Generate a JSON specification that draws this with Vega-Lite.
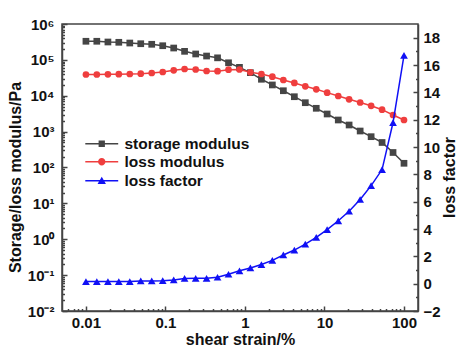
{
  "$schema": "https://vega.github.io/schema/vega-lite/v6.json",
  "width": 356,
  "height": 287,
  "autosize": {"type": "none"},
  "padding": {"left": 62, "top": 24, "right": 38, "bottom": 38},
  "background": "white",
  "config": {
    "font": "Liberation Sans",
    "view": {"stroke": "#444", "strokeWidth": 1.5},
    "axis": {
      "grid": false,
      "domainColor": "#444",
      "domainWidth": 1.5,
      "tickColor": "#444",
      "tickWidth": 1.5,
      "labelFont": "Liberation Sans",
      "labelFontWeight": "bold",
      "labelFontSize": 15,
      "labelColor": "#111",
      "titleFont": "Liberation Sans",
      "titleFontWeight": "bold",
      "titleFontSize": 16,
      "titleColor": "#111"
    },
    "legend": {
      "orient": "none",
      "legendX": 32,
      "padding": 0,
      "labelFont": "Liberation Sans",
      "labelFontWeight": "bold",
      "labelFontSize": 15.5,
      "labelColor": "#111",
      "symbolSize": 49,
      "symbolStrokeWidth": 1.5,
      "symbolOpacity": 1,
      "labelOffset": 15
    }
  },
  "data": {
    "values": [
      {"strain": 0.01, "series": "storage modulus", "value": 330000},
      {"strain": 0.0137, "series": "storage modulus", "value": 330000},
      {"strain": 0.0189, "series": "storage modulus", "value": 315000},
      {"strain": 0.0259, "series": "storage modulus", "value": 309000},
      {"strain": 0.0356, "series": "storage modulus", "value": 295000},
      {"strain": 0.0489, "series": "storage modulus", "value": 282000},
      {"strain": 0.0672, "series": "storage modulus", "value": 272000},
      {"strain": 0.0924, "series": "storage modulus", "value": 248000},
      {"strain": 0.127, "series": "storage modulus", "value": 214000},
      {"strain": 0.174, "series": "storage modulus", "value": 173000},
      {"strain": 0.24, "series": "storage modulus", "value": 146000},
      {"strain": 0.329, "series": "storage modulus", "value": 128000},
      {"strain": 0.452, "series": "storage modulus", "value": 114000},
      {"strain": 0.621, "series": "storage modulus", "value": 83000},
      {"strain": 0.853, "series": "storage modulus", "value": 62000},
      {"strain": 1.17, "series": "storage modulus", "value": 44000},
      {"strain": 1.61, "series": "storage modulus", "value": 28800},
      {"strain": 2.21, "series": "storage modulus", "value": 20000},
      {"strain": 3.04, "series": "storage modulus", "value": 13800},
      {"strain": 4.18, "series": "storage modulus", "value": 9400},
      {"strain": 5.74, "series": "storage modulus", "value": 6400},
      {"strain": 7.88, "series": "storage modulus", "value": 4470},
      {"strain": 10.8, "series": "storage modulus", "value": 3100},
      {"strain": 14.9, "series": "storage modulus", "value": 2110},
      {"strain": 20.4, "series": "storage modulus", "value": 1530},
      {"strain": 28.1, "series": "storage modulus", "value": 1040},
      {"strain": 38.6, "series": "storage modulus", "value": 723},
      {"strain": 53, "series": "storage modulus", "value": 498},
      {"strain": 72.8, "series": "storage modulus", "value": 262},
      {"strain": 100, "series": "storage modulus", "value": 131},
      {"strain": 0.01, "series": "loss modulus", "value": 39100},
      {"strain": 0.0137, "series": "loss modulus", "value": 39100},
      {"strain": 0.0189, "series": "loss modulus", "value": 39600},
      {"strain": 0.0259, "series": "loss modulus", "value": 39900},
      {"strain": 0.0356, "series": "loss modulus", "value": 40400},
      {"strain": 0.0489, "series": "loss modulus", "value": 41200},
      {"strain": 0.0672, "series": "loss modulus", "value": 43100},
      {"strain": 0.0924, "series": "loss modulus", "value": 45900},
      {"strain": 0.127, "series": "loss modulus", "value": 51200},
      {"strain": 0.174, "series": "loss modulus", "value": 55700},
      {"strain": 0.24, "series": "loss modulus", "value": 53900},
      {"strain": 0.329, "series": "loss modulus", "value": 49000},
      {"strain": 0.452, "series": "loss modulus", "value": 48300},
      {"strain": 0.621, "series": "loss modulus", "value": 53200},
      {"strain": 0.853, "series": "loss modulus", "value": 53900},
      {"strain": 1.17, "series": "loss modulus", "value": 45000},
      {"strain": 1.61, "series": "loss modulus", "value": 40400},
      {"strain": 2.21, "series": "loss modulus", "value": 34000},
      {"strain": 3.04, "series": "loss modulus", "value": 27500},
      {"strain": 4.18, "series": "loss modulus", "value": 22700},
      {"strain": 5.74, "series": "loss modulus", "value": 18300},
      {"strain": 7.88, "series": "loss modulus", "value": 15100},
      {"strain": 10.8, "series": "loss modulus", "value": 12200},
      {"strain": 14.9, "series": "loss modulus", "value": 9840},
      {"strain": 20.4, "series": "loss modulus", "value": 7960},
      {"strain": 28.1, "series": "loss modulus", "value": 6490},
      {"strain": 38.6, "series": "loss modulus", "value": 5250},
      {"strain": 53, "series": "loss modulus", "value": 4090},
      {"strain": 72.8, "series": "loss modulus", "value": 2910},
      {"strain": 100, "series": "loss modulus", "value": 2110},
      {"strain": 0.01, "series": "loss factor", "value": 0.15},
      {"strain": 0.0137, "series": "loss factor", "value": 0.15},
      {"strain": 0.0189, "series": "loss factor", "value": 0.15},
      {"strain": 0.0259, "series": "loss factor", "value": 0.15},
      {"strain": 0.0356, "series": "loss factor", "value": 0.15},
      {"strain": 0.0489, "series": "loss factor", "value": 0.2},
      {"strain": 0.0672, "series": "loss factor", "value": 0.2},
      {"strain": 0.0924, "series": "loss factor", "value": 0.22},
      {"strain": 0.127, "series": "loss factor", "value": 0.27},
      {"strain": 0.174, "series": "loss factor", "value": 0.38},
      {"strain": 0.24, "series": "loss factor", "value": 0.39},
      {"strain": 0.329, "series": "loss factor", "value": 0.39},
      {"strain": 0.452, "series": "loss factor", "value": 0.47},
      {"strain": 0.621, "series": "loss factor", "value": 0.69},
      {"strain": 0.853, "series": "loss factor", "value": 0.94},
      {"strain": 1.17, "series": "loss factor", "value": 1.15},
      {"strain": 1.61, "series": "loss factor", "value": 1.4},
      {"strain": 2.21, "series": "loss factor", "value": 1.7},
      {"strain": 3.04, "series": "loss factor", "value": 2.1},
      {"strain": 4.18, "series": "loss factor", "value": 2.46},
      {"strain": 5.74, "series": "loss factor", "value": 2.9},
      {"strain": 7.88, "series": "loss factor", "value": 3.38},
      {"strain": 10.8, "series": "loss factor", "value": 3.95},
      {"strain": 14.9, "series": "loss factor", "value": 4.6},
      {"strain": 20.4, "series": "loss factor", "value": 5.3},
      {"strain": 28.1, "series": "loss factor", "value": 6.16},
      {"strain": 38.6, "series": "loss factor", "value": 7.17},
      {"strain": 53, "series": "loss factor", "value": 8.35},
      {"strain": 72.8, "series": "loss factor", "value": 11.79},
      {"strain": 100, "series": "loss factor", "value": 16.7}
    ]
  },
  "layer": [
    {
      "transform": [{"filter": "datum.series !== 'loss factor'"}],
      "mark": {"type": "line", "strokeWidth": 1.5},
      "encoding": {
        "x": {
          "field": "strain", "type": "quantitative",
          "scale": {"type": "log", "domain": [0.005, 150], "nice": false},
          "axis": {
            "orient": "bottom",
            "values": [0.01, 0.1, 1, 10, 100],
            "labelExpr": "datum.value < 0.05 ? '0.01' : datum.value < 0.5 ? '0.1' : format(datum.value, 'd')",
            "tickSize": -5,
            "labelPadding": 9,
            "title": "shear strain/%",
            "titlePadding": 1
          }
        },
        "y": {
          "field": "value", "type": "quantitative",
          "scale": {"type": "log", "domain": [0.01, 1000000], "nice": false},
          "axis": {
            "orient": "left",
            "values": [0.01, 0.1, 1, 10, 100, 1000, 10000, 100000, 1000000],
            "labelExpr": "['10⁻²','10⁻¹','10⁰','10¹','10²','10³','10⁴','10⁵','10⁶'][round(log(datum.value)/LN10)+2]",
            "tickSize": -5,
            "labelPadding": 13,
            "title": "Storage/loss modulus/Pa",
            "titleX": -42,
            "titleY": 153,
            "titleBaseline": "alphabetic"
          }
        },
        "color": {
          "field": "series", "type": "nominal",
          "scale": {"domain": ["storage modulus", "loss modulus", "loss factor"], "range": ["#454545", "#ef3e3e", "#1010f5"]},
          "legend": null
        }
      }
    },
    {
      "transform": [{"filter": "datum.series !== 'loss factor'"}],
      "mark": {"type": "point", "filled": true, "size": 45, "opacity": 1},
      "encoding": {
        "x": {
          "field": "strain", "type": "quantitative",
          "scale": {"type": "log", "domain": [0.005, 150], "nice": false},
          "axis": {
            "orient": "bottom",
            "values": [0.006, 0.007, 0.008, 0.009, 0.02, 0.03, 0.04, 0.05, 0.06, 0.07, 0.08, 0.09, 0.2, 0.3, 0.4, 0.5, 0.6, 0.7, 0.8, 0.9, 2, 3, 4, 5, 6, 7, 8, 9, 20, 30, 40, 50, 60, 70, 80, 90],
            "labels": false, "domain": false, "title": null, "tickSize": -2.5
          }
        },
        "y": {
          "field": "value", "type": "quantitative",
          "scale": {"type": "log", "domain": [0.01, 1000000], "nice": false},
          "axis": {
            "orient": "left",
            "values": [0.02, 0.03, 0.04, 0.05, 0.06, 0.07, 0.08, 0.09, 0.2, 0.3, 0.4, 0.5, 0.6, 0.7, 0.8, 0.9, 2, 3, 4, 5, 6, 7, 8, 9, 20, 30, 40, 50, 60, 70, 80, 90, 200, 300, 400, 500, 600, 700, 800, 900, 2000, 3000, 4000, 5000, 6000, 7000, 8000, 9000, 20000, 30000, 40000, 50000, 60000, 70000, 80000, 90000, 200000, 300000, 400000, 500000, 600000, 700000, 800000, 900000],
            "labels": false, "domain": false, "title": null, "tickSize": -2.5
          }
        },
        "color": {"field": "series", "type": "nominal", "legend": null},
        "shape": {
          "field": "series", "type": "nominal",
          "scale": {"domain": ["storage modulus", "loss modulus"], "range": ["square", "circle"]},
          "legend": null
        }
      }
    },
    {
      "transform": [{"filter": "datum.series === 'loss factor'"}],
      "mark": {"type": "line", "strokeWidth": 1.5},
      "encoding": {
        "x": {"field": "strain", "type": "quantitative", "scale": {"type": "log", "domain": [0.005, 150], "nice": false}, "axis": null},
        "y": {
          "field": "value", "type": "quantitative",
          "scale": {"type": "linear", "domain": [-2, 19], "nice": false, "zero": false},
          "axis": {
            "orient": "right",
            "values": [-2, 0, 2, 4, 6, 8, 10, 12, 14, 16, 18],
            "tickSize": -5,
            "labelPadding": 10,
            "title": "loss factor",
            "titleAngle": 270,
            "titleBaseline": "alphabetic",
            "titleX": 36,
            "titleY": 153
          }
        },
        "color": {"field": "series", "type": "nominal", "legend": null}
      }
    },
    {
      "transform": [{"filter": "datum.series === 'loss factor'"}],
      "mark": {"type": "point", "shape": "triangle-up", "filled": true, "size": 60, "opacity": 1},
      "encoding": {
        "x": {"field": "strain", "type": "quantitative", "scale": {"type": "log", "domain": [0.005, 150], "nice": false}, "axis": null},
        "y": {
          "field": "value", "type": "quantitative",
          "scale": {"type": "linear", "domain": [-2, 19], "nice": false, "zero": false},
          "axis": {
            "orient": "right",
            "values": [-1, 1, 3, 5, 7, 9, 11, 13, 15, 17],
            "labels": false, "domain": false, "title": null, "tickSize": -2.5
          }
        },
        "color": {"field": "series", "type": "nominal", "legend": null}
      }
    },
    {
      "transform": [{"filter": "datum.series === 'storage modulus'"}],
      "mark": {"type": "point", "filled": true, "color": "#454545", "stroke": "#454545", "strokeWidth": 1.5, "size": 49, "opacity": 0},
      "encoding": {
        "x": {"field": "strain", "type": "quantitative", "scale": {"type": "log", "domain": [0.005, 150], "nice": false}, "axis": null},
        "y": {"field": "value", "type": "quantitative", "scale": {"type": "log", "domain": [0.01, 1000000], "nice": false}, "axis": null},
        "shape": {
          "field": "series", "type": "nominal",
          "scale": {"domain": ["storage modulus"], "range": ["M-4.7,-0.2H4.7V0.2H-4.7ZM-0.9,-0.9H0.9V0.9H-0.9Z"]},
          "legend": {"title": null, "legendY": 112, "symbolFillColor": "#454545", "symbolStrokeColor": "#454545"}
        }
      }
    },
    {
      "transform": [{"filter": "datum.series === 'loss modulus'"}],
      "mark": {"type": "point", "filled": true, "color": "#ef3e3e", "stroke": "#ef3e3e", "strokeWidth": 1.5, "size": 49, "opacity": 0},
      "encoding": {
        "x": {"field": "strain", "type": "quantitative", "scale": {"type": "log", "domain": [0.005, 150], "nice": false}, "axis": null},
        "y": {"field": "value", "type": "quantitative", "scale": {"type": "log", "domain": [0.01, 1000000], "nice": false}, "axis": null},
        "shape": {
          "field": "series", "type": "nominal",
          "scale": {"domain": ["loss modulus"], "range": ["M-4.7,-0.2H4.7V0.2H-4.7ZM1.05,0A1.05,1.05,0,1,1,-1.05,0A1.05,1.05,0,1,1,1.05,0Z"]},
          "legend": {"title": null, "legendY": 130, "symbolFillColor": "#ef3e3e", "symbolStrokeColor": "#ef3e3e"}
        }
      }
    },
    {
      "transform": [{"filter": "datum.series === 'loss factor'"}],
      "mark": {"type": "point", "filled": true, "color": "#1010f5", "stroke": "#1010f5", "strokeWidth": 1.5, "size": 49, "opacity": 0},
      "encoding": {
        "x": {"field": "strain", "type": "quantitative", "scale": {"type": "log", "domain": [0.005, 150], "nice": false}, "axis": null},
        "y": {"field": "value", "type": "quantitative", "scale": {"type": "log", "domain": [0.01, 1000000], "nice": false}, "axis": null},
        "shape": {
          "field": "series", "type": "nominal",
          "scale": {"domain": ["loss factor"], "range": ["M-4.7,-0.2H4.7V0.2H-4.7ZM0,-1.15L1.2,0.9H-1.2Z"]},
          "legend": {"title": null, "legendY": 149, "symbolFillColor": "#1010f5", "symbolStrokeColor": "#1010f5"}
        }
      }
    }
  ],
  "resolve": {
    "scale": {"y": "independent", "shape": "independent"},
    "axis": {"x": "independent", "y": "independent"}
  }
}
